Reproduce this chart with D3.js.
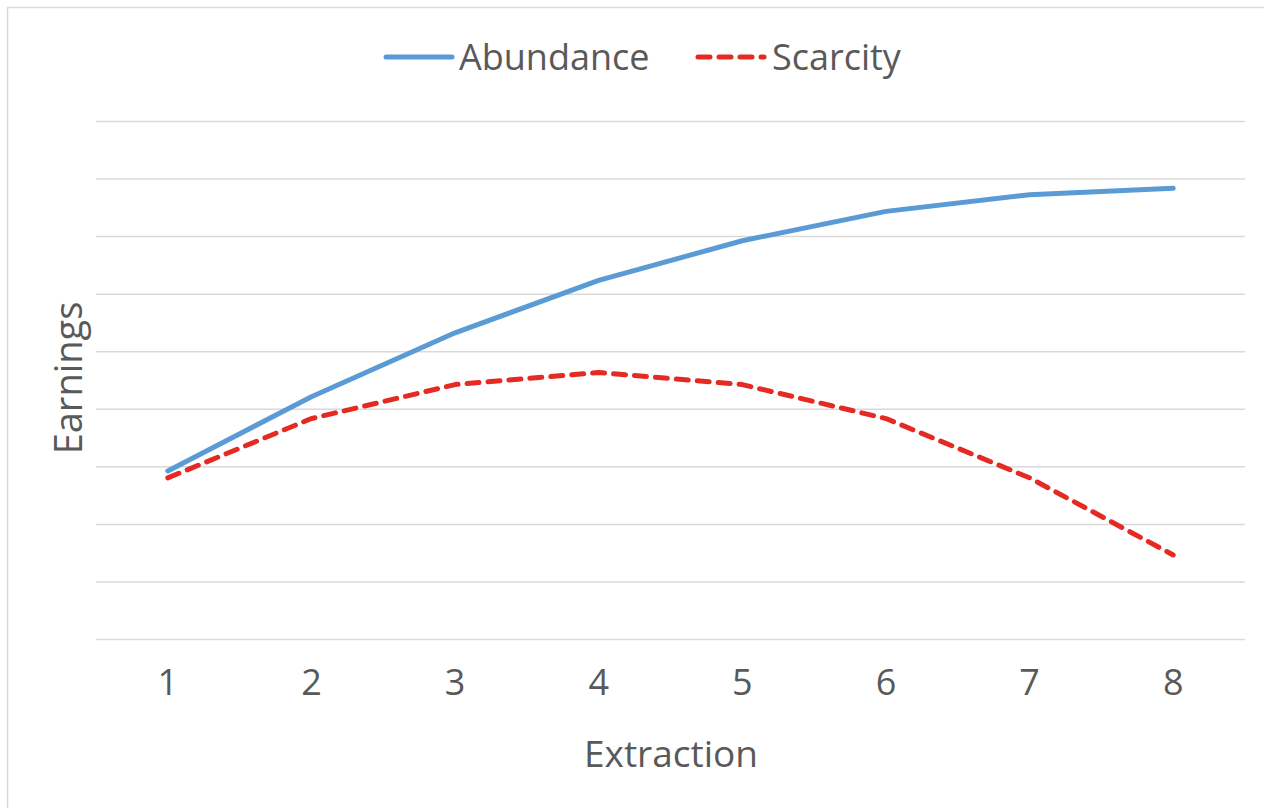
<!DOCTYPE html>
<html>
<head>
<meta charset="utf-8">
<script src="https://cdn.jsdelivr.net/npm/d3@7"></script>
<style>
  body { margin: 0; background: #fff; }
  svg text { font-family: "Open Sans", "Liberation Sans", sans-serif; fill: #595959; }
</style>
</head>
<body>
<svg id="chart" width="1264" height="808"></svg>
<script>
const categories = ['1', '2', '3', '4', '5', '6', '7', '8'];
const abundance = [2.92, 4.21, 5.32, 6.23, 6.92, 7.43, 7.72, 7.83];
const scarcity  = [2.80, 3.83, 4.42, 4.63, 4.42, 3.83, 2.80, 1.46];
const yTicks = [0, 1, 2, 3, 4, 5, 6, 7, 8, 9];

const seriesList = [
    { name: 'Abundance', values: abundance, color: '#5b9bd5', dash: null },
    { name: 'Scarcity',  values: scarcity,  color: '#e52a23', dash: '12,9' }
];

const svg = d3.select('#chart');
const plotLeft = 96, plotRight = 1245, plotTop = 121, plotBottom = 639;

// outer chart border
svg.append('rect')
    .attr('x', 7.5).attr('y', 7.5)
    .attr('width', 1270).attr('height', 820)
    .attr('fill', 'none')
    .attr('stroke', '#d9d9d9')
    .attr('stroke-width', 1.5);

const x = d3.scaleBand().domain(categories).range([plotLeft, plotRight]);
const y = d3.scaleLinear().domain([0, 9]).range([plotBottom, plotTop]);

// gridlines
svg.append('g')
    .attr('transform', 'translate(' + plotLeft + ',0)')
    .call(d3.axisLeft(y).tickValues(yTicks).tickSize(-(plotRight - plotLeft)).tickFormat(''))
    .call(g => g.select('.domain').remove())
    .call(g => g.selectAll('line').attr('stroke', '#d9d9d9').attr('stroke-width', 1.5));

// x axis labels
svg.append('g')
    .attr('transform', 'translate(0,' + plotBottom + ')')
    .call(d3.axisBottom(x).tickSize(0).tickPadding(30))
    .call(g => g.select('.domain').remove())
    .call(g => g.selectAll('text')
        .attr('font-size', 36)
        .style('font-family', '"Open Sans", "Liberation Sans", sans-serif')
        .attr('fill', '#595959'));

const line = d3.line()
    .x((d, i) => x(categories[i]) + x.bandwidth() / 2)
    .y(d => y(d));

seriesList.forEach(s => {
    svg.append('path')
        .datum(s.values)
        .attr('d', line)
        .attr('fill', 'none')
        .attr('stroke', s.color)
        .attr('stroke-width', 5)
        .attr('stroke-linecap', 'round')
        .attr('stroke-linejoin', 'round')
        .attr('stroke-dasharray', s.dash);
});

// axis titles
svg.append('text')
    .attr('x', 671)
    .attr('y', 767)
    .attr('text-anchor', 'middle')
    .attr('font-size', 37)
    .text('Extraction');

svg.append('text')
    .attr('transform', 'translate(82,378) rotate(-90)')
    .attr('text-anchor', 'middle')
    .attr('font-size', 38)
    .text('Earnings');

// legend
const legend = [
    { name: 'Abundance', color: '#5b9bd5', dash: null, x0: 386, tx: 459 },
    { name: 'Scarcity', color: '#e52a23', dash: '12,9', x0: 698, tx: 772 }
];
legend.forEach(l => {
    svg.append('line')
        .attr('x1', l.x0).attr('x2', l.x0 + 66)
        .attr('y1', 57).attr('y2', 57)
        .attr('stroke', l.color)
        .attr('stroke-width', 5)
        .attr('stroke-linecap', 'round')
        .attr('stroke-dasharray', l.dash);
    svg.append('text')
        .attr('x', l.tx).attr('y', 70)
        .attr('font-size', 36)
        .text(l.name);
});
</script>
</body>
</html>
